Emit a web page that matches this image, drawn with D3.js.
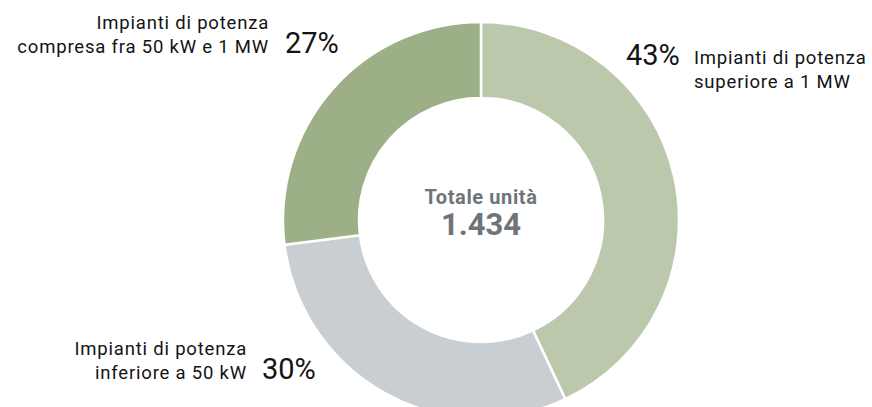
<html>
    <head>
        <script src="https://d3js.org/d3.v7.min.js"></script>
        <style>
            body { margin: 0; background: #fff; }
            text { font-family: Roboto, "Liberation Sans", sans-serif; }
        </style>
    </head>
    <body>
        <div id="chartDiv1"></div>
    </body>

<script>

// slices, clockwise from 12 o'clock
const categories = ["superiore", "inferiore", "compresa"];
const shares = [43, 30, 27];
const labelLines = [
  ["Impianti di potenza", "superiore a 1 MW"],
  ["Impianti di potenza", "inferiore a 50 kW"],
  ["Impianti di potenza", "compresa fra 50 kW e 1 MW"]
];
const totalLabel = "Totale unità";
const totalValue = "1.434";

const colorMap = {
  "superiore": "#bcc8ab",
  "inferiore": "#c9ced3",
  "compresa": "#9caf87"
};

const width = 872, height = 407;
const cx = 481, cy = 220;
const outerR = 198, innerR = 122;

const svg = d3.select("#chartDiv1")
  .append("svg")
  .attr("width", width)
  .attr("height", height);

const g = svg.append("g")
  .attr("transform", "translate(" + cx + "," + cy + ")");

const pie = d3.pie().sort(null).value(d => d.v);
const arc = d3.arc().innerRadius(innerR).outerRadius(outerR);

const data = categories.map((c, i) => ({ c: c, v: shares[i], lines: labelLines[i] }));
const arcs = pie(data);

g.selectAll("path")
  .data(arcs)
  .enter()
  .append("path")
  .attr("d", arc)
  .attr("fill", d => colorMap[d.data.c])
  .attr("stroke", "#fff")
  .attr("stroke-width", 2.5);

// center text
g.append("text")
  .attr("x", 0).attr("y", -16)
  .attr("text-anchor", "middle")
  .attr("fill", "#6e7479")
  .style("font-size", "20px")
  .style("font-weight", "bold")
  .style("letter-spacing", "0.6px")
  .text(totalLabel);

g.append("text")
  .attr("x", 0).attr("y", 15)
  .attr("text-anchor", "middle")
  .attr("fill", "#6e7479")
  .style("font-size", "31px")
  .style("font-weight", "bold")
  .text(totalValue);

// label placement per slice (pct text pos, side the description goes)
const labelPos = {
  "superiore": { px: 626, py: 65, side: "right", lx: 694, ly: 64 },
  "inferiore": { px: 262, py: 379, side: "left", lx: 247, ly: 355 },
  "compresa":  { px: 285, py: 53, side: "left", lx: 269, ly: 29 }
};

data.forEach(d => {
  const p = labelPos[d.c];
  svg.append("text")
    .attr("x", p.px).attr("y", p.py)
    .attr("fill", "#141414")
    .style("font-size", "29px")
    .text(d.v + "%");

  const t = svg.append("text")
    .attr("fill", "#141414")
    .style("font-size", "18.5px")
    .style("letter-spacing", "0.8px")
    .attr("text-anchor", p.side == "right" ? "start" : "end");
  d.lines.forEach((line, i) => {
    t.append("tspan")
      .attr("x", p.lx)
      .attr("y", p.ly + i * 23.5)
      .text(line);
  });
});

</script>

</html>
